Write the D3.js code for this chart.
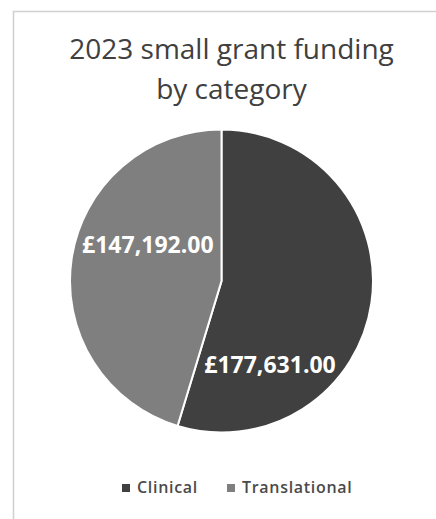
<!DOCTYPE html>
<html>
<head>
<meta charset="utf-8">
<script src="https://cdn.jsdelivr.net/npm/d3@7"></script>
<style>
  body { margin: 0; background: #fff; }
  svg { display: block; }
</style>
</head>
<body>
<div id="chart"></div>
<script>
// chart data
var categories = ["Clinical", "Translational"];
var funding = [177631, 147192];
var titleLines = ["2023 small grant funding", "by category"];

// layout
var W = 436, H = 519;
var cx = 221.5, cy = 281, radius = 151.5;
var colours = d3.scaleOrdinal().domain(categories).range(["#404040", "#7f7f7f"]);
// where Excel left the data labels (polar, relative to pie centre)
var labelSpot = { "Clinical": { a: 150, r: 97 }, "Translational": { a: 296, r: 82 } };

var svg = d3.select("#chart").append("svg")
    .attr("width", W)
    .attr("height", H);

// chart area frame (only top/left edges fall inside the crop)
svg.append("rect")
    .attr("x", 13.5).attr("y", 11.5)
    .attr("width", W).attr("height", H)
    .attr("fill", "#fff")
    .attr("stroke", "#d0d0d0")
    .attr("stroke-width", 1.5);

svg.append("g").selectAll("text")
    .data(titleLines)
    .join("text")
    .attr("x", 231.5)
    .attr("y", function(d, i) { return 58.5 + i * 40; })
    .attr("text-anchor", "middle")
    .attr("font-family", "'Open Sans', sans-serif")
    .attr("font-size", 28)
    .attr("fill", "#404040")
    .text(function(d) { return d; });

var rows = categories.map(function(c, i) { return { cat: c, value: funding[i] }; });

var pie = d3.pie()
    .value(function(d) { return d.value; })
    .sort(null);
var arc = d3.arc().innerRadius(0).outerRadius(radius);

var g = svg.append("g").attr("transform", "translate(" + cx + "," + cy + ")");

g.selectAll("path")
    .data(pie(rows))
    .join("path")
    .attr("d", arc)
    .attr("fill", function(d) { return colours(d.data.cat); })
    .attr("stroke", "#fff")
    .attr("stroke-width", 2);

var money = d3.format(",.2f");
g.selectAll("text.lbl")
    .data(pie(rows))
    .join("text")
    .attr("class", "lbl")
    .attr("transform", function(d) {
        var s = labelSpot[d.data.cat];
        var p = d3.pointRadial(s.a * Math.PI / 180, s.r);
        return "translate(" + p[0] + "," + p[1] + ")";
    })
    .attr("dy", "0.36em")
    .attr("text-anchor", "middle")
    .attr("font-family", "'Open Sans', sans-serif")
    .attr("font-weight", "bold")
    .attr("font-size", 23)
    .attr("fill", "#fff")
    .text(function(d) { return "£" + money(d.data.value); });

// legend
var legend = svg.append("g").attr("transform", "translate(0,493)");
var legX = [122, 227];
var items = legend.selectAll("g")
    .data(categories)
    .join("g")
    .attr("transform", function(d, i) { return "translate(" + legX[i] + ",0)"; });
items.append("rect")
    .attr("x", 0).attr("y", -9)
    .attr("width", 8).attr("height", 8)
    .attr("fill", function(d) { return colours(d); });
items.append("text")
    .attr("x", 15)
    .attr("font-family", "'Open Sans', sans-serif")
    .attr("font-size", 16)
    .attr("font-weight", 600)
    .attr("letter-spacing", 0.7)
    .attr("fill", "#4a4a4a")
    .text(function(d) { return d; });
</script>
</body>
</html>
